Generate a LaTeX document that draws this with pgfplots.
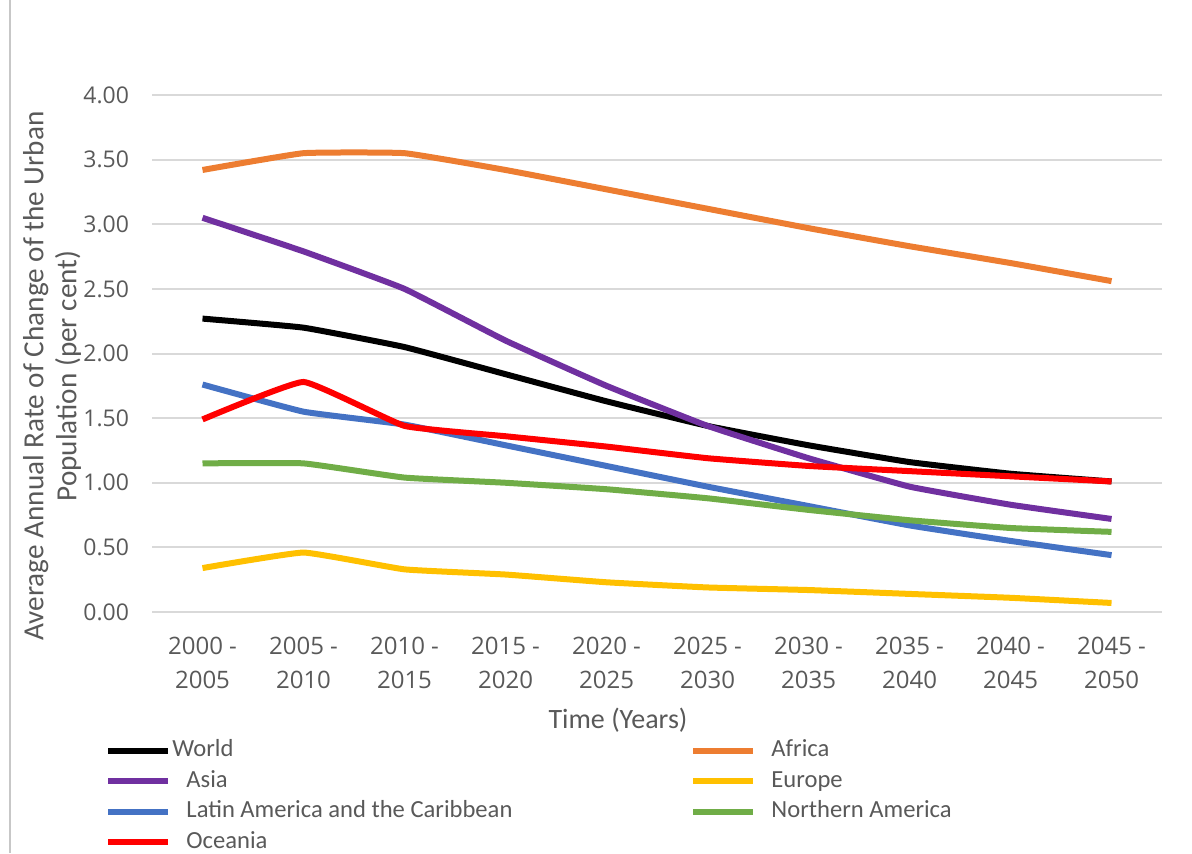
\documentclass[border=0pt]{standalone}
\usepackage{pgfplots}
\pgfplotsset{compat=1.18}
\usepackage{fontspec}
\setmainfont{Carlito}
\newfontfamily\tickfont{Open Sans}
\definecolor{txt}{HTML}{595959}
\definecolor{cWorld}{HTML}{000000}
\definecolor{cAfrica}{HTML}{ED7D31}
\definecolor{cAsia}{HTML}{7030A0}
\definecolor{cEurope}{HTML}{FFC000}
\definecolor{cLAC}{HTML}{4472C4}
\definecolor{cNA}{HTML}{70AD47}
\definecolor{cOce}{HTML}{FF0000}
\begin{document}
\begin{tikzpicture}
\path[use as bounding box] (0,0) rectangle (596pt,426.5pt);
\draw[color=black!22, line width=0.9pt] (5pt,0) -- (5pt,426.5pt);
\begin{axis}[
  at={(76pt,120.5pt)}, anchor=south west,
  scale only axis, width=505pt, height=258.5pt,
  xmin=-0.5, xmax=9.5, ymin=0, ymax=4,
  axis line style={draw=none},
  major tick length=0pt,
  ymajorgrids, grid style={color=black!15, line width=1pt},
  xtick={0,...,9},
  xticklabels={{2000 -\\2005},{2005 -\\2010},{2010 -\\2015},{2015 -\\2020},{2020 -\\2025},{2025 -\\2030},{2030 -\\2035},{2035 -\\2040},{2040 -\\2045},{2045 -\\2050}},
  ytick={0,0.5,1,1.5,2,2.5,3,3.5,4},
  yticklabels={0.00,0.50,1.00,1.50,2.00,2.50,3.00,3.50,4.00},
  ticklabel style={text=txt},
  xticklabel style={font=\tickfont\fontsize{12}{17}\selectfont, align=center, yshift=-9pt},
  yticklabel style={font=\tickfont\fontsize{11.5}{14}\selectfont, xshift=-8pt},
  clip=false,
  legend columns=2,
  legend cell align=left,
  legend image code/.code={\draw[#1, line width=3pt] (0pt,0pt) -- (30pt,0pt);},
  legend style={at={(-0.0465,-0.244)}, anchor=north west, draw=none, fill=none,
    inner sep=0pt, row sep=3.25pt,
    font=\fontsize{12.3}{14}\selectfont, text=txt,
    nodes={inner sep=0pt, text height=9pt, text depth=3pt},
    /tikz/every odd column/.append style={column sep=0.5pt}},
  every axis plot/.append style={line width=3pt, smooth, tension=0.2},
]
\addplot[cWorld] coordinates {(0,2.27)(1,2.20)(2,2.05)(3,1.84)(4,1.63)(5,1.44)(6,1.29)(7,1.16)(8,1.07)(9,1.01)};
\addlegendentry{\makebox[259pt][l]{World}}
\addplot[cAfrica] coordinates {(0,3.42)(1,3.55)(2,3.55)(3,3.42)(4,3.27)(5,3.12)(6,2.97)(7,2.83)(8,2.70)(9,2.56)};
\addlegendentry{\hspace{7pt}Africa}
\addplot[cAsia] coordinates {(0,3.05)(1,2.79)(2,2.50)(3,2.10)(4,1.75)(5,1.44)(6,1.19)(7,0.97)(8,0.83)(9,0.72)};
\addlegendentry{\makebox[259pt][l]{\hspace{7pt}Asia}}
\addplot[cEurope] coordinates {(0,0.34)(1,0.46)(2,0.33)(3,0.29)(4,0.23)(5,0.19)(6,0.17)(7,0.14)(8,0.11)(9,0.07)};
\addlegendentry{\hspace{7pt}Europe}
\addplot[cLAC] coordinates {(0,1.76)(1,1.55)(2,1.45)(3,1.29)(4,1.13)(5,0.97)(6,0.82)(7,0.67)(8,0.55)(9,0.44)};
\addlegendentry{\makebox[259pt][l]{\hspace{7pt}Latin America and the Caribbean}}
\addplot[cNA] coordinates {(0,1.15)(1,1.15)(2,1.04)(3,1.00)(4,0.95)(5,0.88)(6,0.79)(7,0.71)(8,0.65)(9,0.62)};
\addlegendentry{\hspace{7pt}Northern America}
\addplot[cOce] coordinates {(0,1.49)(1,1.78)(2,1.44)(3,1.36)(4,1.28)(5,1.19)(6,1.13)(7,1.09)(8,1.05)(9,1.01)};
\addlegendentry{\makebox[259pt][l]{\hspace{7pt}Oceania}}
\end{axis}
\node[text=txt, font=\fontsize{14}{16}\selectfont] at (309pt,66.5pt) {Time (Years)};
\node[text=txt, rotate=90, align=center, font=\fontsize{14.6}{16.5}\selectfont] at (26pt,238.5pt) {Average Annual Rate of Change of the Urban\\Population (per cent)};
\end{tikzpicture}
\end{document}
